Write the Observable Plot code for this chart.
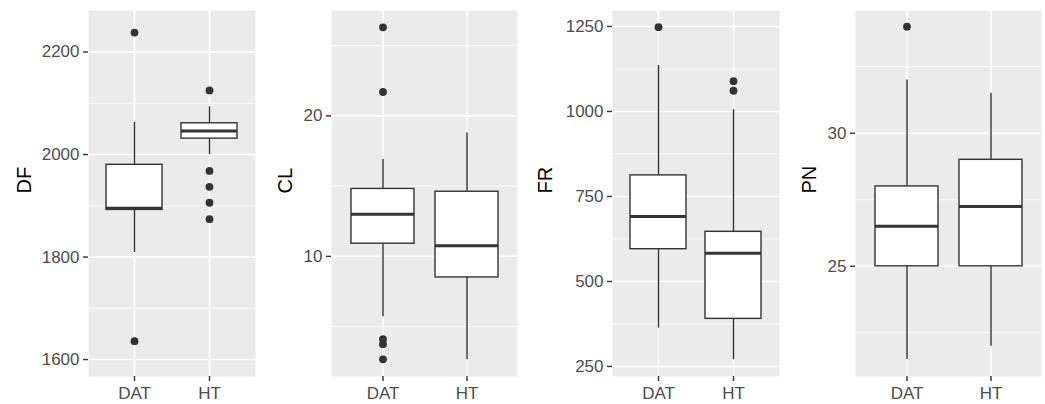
<!DOCTYPE html>
<html>
<head>
<meta charset="utf-8">
<script src="https://cdn.jsdelivr.net/npm/d3@7"></script>
<script src="https://cdn.jsdelivr.net/npm/@observablehq/plot@0.6"></script>
<style>
  html, body { margin: 0; padding: 0; background: white; }
  #row { display: flex; flex-direction: row; width: 1045px; height: 404px; }
  #row > div { flex: none; }
  svg { display: block; }
</style>
</head>
<body>
<div id="row"></div>
<script>
// ---- data ----
const groups = ["DAT", "HT"];

// DF
const DF_low    = [1809, 2000];
const DF_q1     = [1892, 2031];
const DF_median = [1895, 2046];
const DF_q3     = [1980, 2061];
const DF_high   = [2063, 2093];
const DF_outGroup = ["DAT", "DAT", "HT", "HT", "HT", "HT", "HT"];
const DF_outValue = [2238, 1636, 2125, 1968, 1937, 1906, 1874];
const DF_ticks = [1600, 1800, 2000, 2200];
const DF_minor = [1700, 1900, 2100];
const DF_domain = [1567, 2281];

// CL
const CL_low    = [5.7, 2.64];
const CL_q1     = [10.9, 8.5];
const CL_median = [13.0, 10.75];
const CL_q3     = [14.8, 14.6];
const CL_high   = [16.9, 18.8];
const CL_outGroup = ["DAT", "DAT", "DAT", "DAT", "DAT"];
const CL_outValue = [26.3, 21.7, 4.1, 3.75, 2.67];
const CL_ticks = [10, 20];
const CL_minor = [5, 15, 25];
const CL_domain = [1.45, 27.5];

// FR
const FR_low    = [363, 270];
const FR_q1     = [595, 390];
const FR_median = [691, 583];
const FR_q3     = [812, 646];
const FR_high   = [1135, 1005];
const FR_outGroup = ["DAT", "HT", "HT"];
const FR_outValue = [1248, 1089, 1061];
const FR_ticks = [250, 500, 750, 1000, 1250];
const FR_minor = [375, 625, 875, 1125];
const FR_domain = [220.5, 1297];

// PN
const PN_low    = [21.5, 22];
const PN_q1     = [25, 25];
const PN_median = [26.5, 27.25];
const PN_q3     = [28, 29];
const PN_high   = [32, 31.5];
const PN_outGroup = ["DAT"];
const PN_outValue = [34];
const PN_ticks = [25, 30];
const PN_minor = [22.5, 27.5, 32.5];
const PN_domain = [20.86, 34.61];

// ---- layout per panel ----
const panels = [
  {label: "DF", low: DF_low, q1: DF_q1, med: DF_median, q3: DF_q3, high: DF_high, og: DF_outGroup, ov: DF_outValue, ticks: DF_ticks, minor: DF_minor, domain: DF_domain,
   width: 261, mL: 88, mR: 6, titleDx: -64},
  {label: "CL", low: CL_low, q1: CL_q1, med: CL_median, q3: CL_q3, high: CL_high, og: CL_outGroup, ov: CL_outValue, ticks: CL_ticks, minor: CL_minor, domain: CL_domain,
   width: 261, mL: 70, mR: 5, titleDx: -46},
  {label: "FR", low: FR_low, q1: FR_q1, med: FR_median, q3: FR_q3, high: FR_high, og: FR_outGroup, ov: FR_outValue, ticks: FR_ticks, minor: FR_minor, domain: FR_domain,
   width: 262, mL: 90, mR: 5, titleDx: -67},
  {label: "PN", low: PN_low, q1: PN_q1, med: PN_median, q3: PN_q3, high: PN_high, og: PN_outGroup, ov: PN_outValue, ticks: PN_ticks, minor: PN_minor, domain: PN_domain,
   width: 261, mL: 71, mR: 4, titleDx: -46}
];

const row = document.getElementById("row");
const ink = "#333333";

for (const p of panels) {
  const stats = groups.map((g, i) => ({group: g, low: p.low[i], q1: p.q1[i], med: p.med[i], q3: p.q3[i], high: p.high[i]}));
  const outliers = p.og.map((g, i) => ({group: g, value: p.ov[i]}));

  const chart = Plot.plot({
    width: p.width,
    height: 404,
    marginLeft: p.mL,
    marginRight: p.mR,
    marginTop: 10,
    marginBottom: 28,
    style: {fontFamily: "'Liberation Sans', Arial, sans-serif", fontSize: "17px", background: "white", overflow: "visible"},
    x: {type: "band", domain: groups, paddingInner: 0.25, paddingOuter: 0.225, align: 0.5, label: null},
    y: {domain: p.domain, label: null},
    marks: [
      Plot.frame({fill: "#EBEBEB", stroke: null}),
      Plot.ruleY(p.minor, {stroke: "white", strokeWidth: 0.75}),
      Plot.ruleY(p.ticks, {stroke: "white", strokeWidth: 1.5}),
      Plot.ruleX(groups, {x: d => d, stroke: "white", strokeWidth: 1.5}),
      // whiskers
      Plot.ruleX(stats, {x: "group", y1: "q3", y2: "high", stroke: ink, strokeWidth: 1.4}),
      Plot.ruleX(stats, {x: "group", y1: "low", y2: "q1", stroke: ink, strokeWidth: 1.4}),
      // boxes
      Plot.barY(stats, {x: "group", y1: "q1", y2: "q3", fill: "white", stroke: ink, strokeWidth: 1.4, inset: 0}),
      // medians
      Plot.tickY(stats, {x: "group", y: "med", stroke: ink, strokeWidth: 3}),
      // outliers
      Plot.dot(outliers, {x: "group", y: "value", r: 3.9, fill: ink, stroke: null}),
      // axes
      Plot.axisY({ticks: p.ticks, tickSize: 5, text: null, stroke: ink, strokeWidth: 1.4}),
      Plot.axisY({ticks: p.ticks, tickSize: 0, tickPadding: 9, fill: "#4D4D4D", label: null, tickFormat: d => String(d)}),
      Plot.axisX({tickSize: 5, text: null, stroke: ink, strokeWidth: 1.4}),
      Plot.axisX({tickSize: 0, tickPadding: 10, fill: "#4D4D4D", label: null}),
      Plot.text([p.label], {frameAnchor: "left", rotate: -90, dx: p.titleDx, fontSize: 20, fill: "black", text: d => d})
    ]
  });
  const wrap = document.createElement("div");
  wrap.style.width = p.width + "px";
  wrap.appendChild(chart);
  row.appendChild(wrap);
}
</script>
</body>
</html>
